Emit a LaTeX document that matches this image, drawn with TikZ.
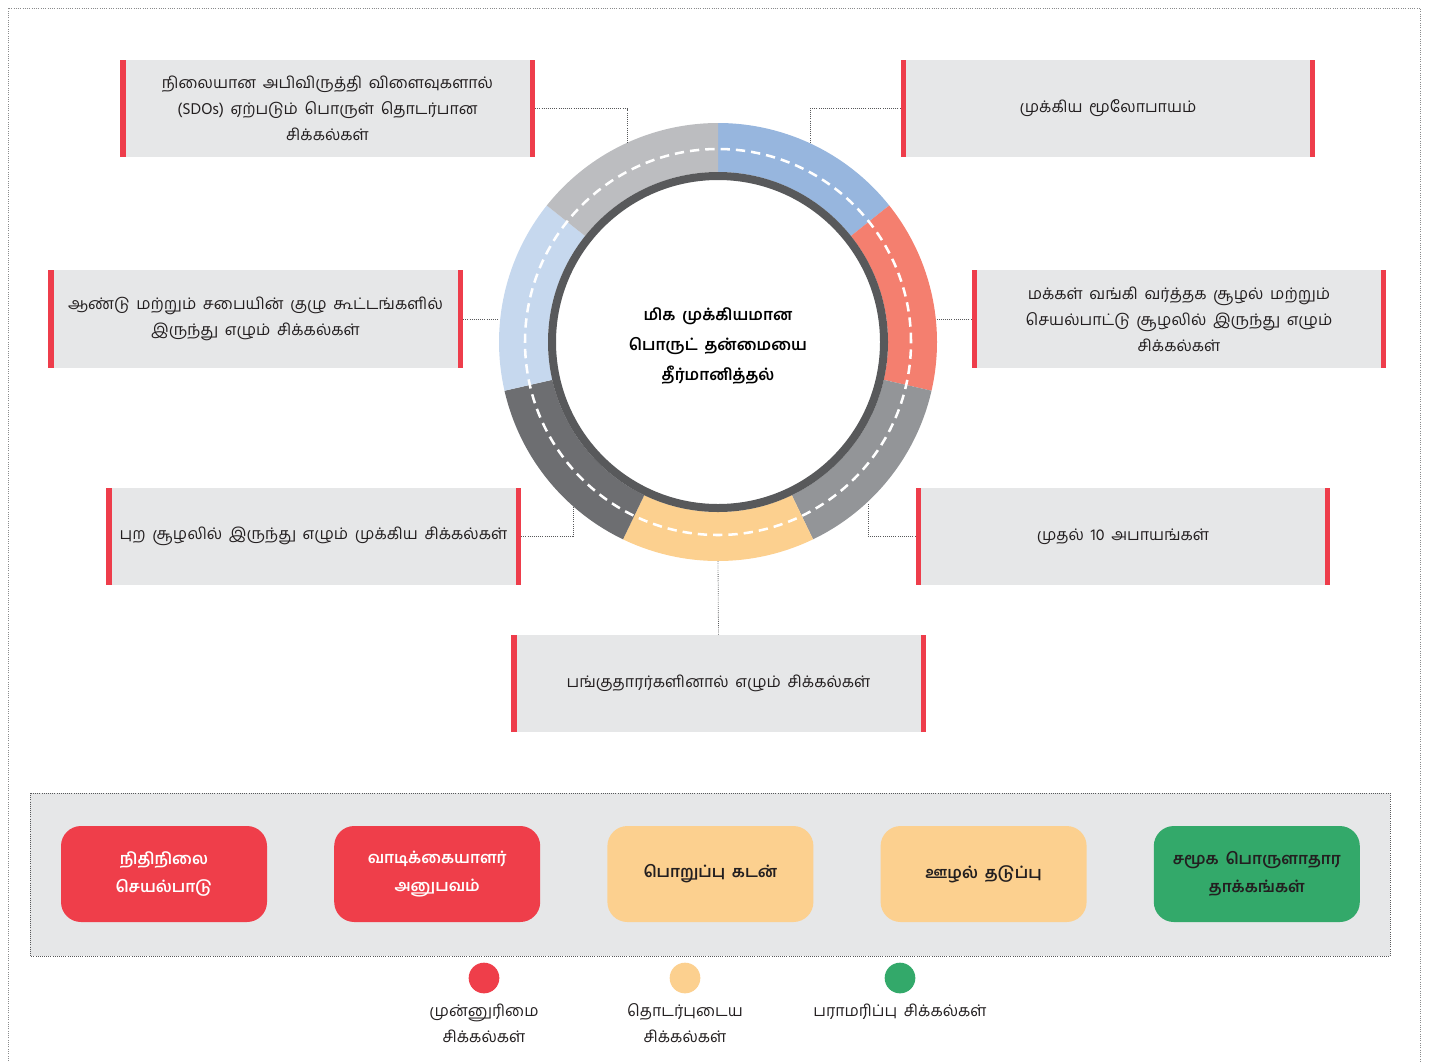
\documentclass[tikz,border=0pt]{standalone}
\usepackage{fontspec}
\setmainfont[Script=Tamil, WordSpace=1.7]{Hind Madurai}
\usetikzlibrary{positioning}

\definecolor{boxgray}{HTML}{E6E7E8}
\definecolor{barred}{HTML}{EE3D4B}
\definecolor{textgray}{HTML}{231F20}
\definecolor{linkgray}{HTML}{58595B}
\definecolor{ringdark}{HTML}{58595B}
\definecolor{ringblue}{HTML}{97B6DE}
\definecolor{ringsalmon}{HTML}{F47F6F}
\definecolor{ringgray}{HTML}{939598}
\definecolor{ringyellow}{HTML}{FCD08F}
\definecolor{ringslate}{HTML}{6D6E71}
\definecolor{ringpale}{HTML}{C6D8EE}
\definecolor{ringsilver}{HTML}{BCBDC0}
\definecolor{tilered}{HTML}{EF3E4A}
\definecolor{tileyellow}{HTML}{FCD08F}
\definecolor{tilegreen}{HTML}{33A96A}

\begin{document}
\begin{tikzpicture}[
    x=0.75pt, y=-0.75pt,
    font=\fontsize{12}{19.5}\selectfont,
    node distance = 50pt,
    link/.style={densely dotted, draw=linkgray, line width=0.6pt},
    ]

    \tikzstyle{issue}=[
    fill = boxgray,
    text = textgray,
    align = center,
    inner sep = 0pt,
    minimum width = 311pt,
    minimum height = 73pt,
    path picture={
      \fill[barred] (path picture bounding box.north west) rectangle ([xshift=4pt]path picture bounding box.south west);
      \fill[barred] ([xshift=-4pt]path picture bounding box.north east) rectangle (path picture bounding box.south east);
    },
    ]
    \tikzstyle{tile}=[
    rounded corners = 15pt,
    align = center,
    minimum width = 154.5pt,
    minimum height = 72pt,
    font = \fontsize{12}{21}\selectfont\bfseries,
    ]
    \tikzstyle{dot}=[circle, inner sep=0pt, minimum size=23pt]

    \useasboundingbox (0,0) rectangle (1433,1061);
    % outer frame
    \draw[densely dotted, draw=linkgray!70, line width=0.7pt] (8,1061) -- (8,8) -- (1420,8) -- (1420,1061);

    % ring
    \begin{scope}[shift={(718,342)}, y=0.75pt]
      \foreach \col [count=\i from 0] in {ringblue, ringsalmon, ringgray, ringyellow, ringslate, ringpale, ringsilver} {
        \pgfmathsetmacro\a{90-\i*360/7}
        \pgfmathsetmacro\b{\a-360/7}
        \fill[\col] (\a:219) arc[start angle=\a, end angle=\b, radius=219]
          -- (\b:170) arc[start angle=\b, end angle=\a, radius=170] -- cycle;
      }
      \draw[white, dashed, line width=1.9pt, dash pattern=on 7pt off 4.5pt] (0,0) circle[radius=193];
      \draw[ringdark, line width=6pt] (0,0) circle[radius=166];
    \end{scope}
    \node[align=center, font=\fontsize{12}{22.5}\selectfont\bfseries] (core) at (718,346)
      {மிக முக்கியமான\\பொருட் தன்மையை\\தீர்மானித்தல்};

    % issue boxes
    \node[issue] (sdo) at (327.5,108.5) {நிலையான அபிவிருத்தி விளைவுகளால்\\(SDOs) ஏற்படும் பொருள் தொடர்பான\\சிக்கல்கள்};
    \node[issue] (strat) at (1108,108.5) {முக்கிய மூலோபாயம்};
    \node[issue] (board) at (255.5,319) {ஆண்டு மற்றும் சபையின் குழு கூட்டங்களில்\\இருந்து எழும் சிக்கல்கள்};
    \node[issue] (bank) at (1179,319) {மக்கள் வங்கி வர்த்தக சூழல் மற்றும்\\செயல்பாட்டு சூழலில் இருந்து எழும்\\சிக்கல்கள்};
    \node[issue] (ext) at (313.5,536.5) {புற சூழலில் இருந்து எழும் முக்கிய சிக்கல்கள்};
    \node[issue] (risk) at (1123,536.5) {முதல் 10 அபாயங்கள்};
    \node[issue] (stake) at (718.5,683.5) {பங்குதாரர்களினால் எழும் சிக்கல்கள்};

    % ring contact points
    \coordinate (r1) at (627,143);
    \coordinate (r2) at (810,143);
    \coordinate (r3) at (499,319);
    \coordinate (r4) at (937,319);
    \coordinate (r5) at (573,507);
    \coordinate (r6) at (868,504);
    \coordinate (r7) at (718,561);

    \draw[link] (sdo.east) -| (r1);
    \draw[link] (strat.west) -| (r2);
    \draw[link] (board.east) -- (r3);
    \draw[link] (bank.west) -- (r4);
    \draw[link] (ext.east) -| (r5);
    \draw[link] (risk.west) -| (r6);
    \draw[link] (stake.north) -- (r7);

    % topic panel
    \draw[densely dotted, draw=linkgray, fill=boxgray, line width=0.6pt] (30,793) rectangle (1390,956);
    \node[tile, fill=tilered, text=white] (fin) at (164,874) {நிதிநிலை\\செயல்பாடு};
    \node[tile, fill=tilered, text=white] (cust) [right=of fin] {வாடிக்கையாளர்\\அனுபவம்};
    \node[tile, fill=tileyellow, text=textgray] (lend) [right=of cust] {பொறுப்பு கடன்};
    \node[tile, fill=tileyellow, text=textgray] (anti) [right=of lend] {ஊழல் தடுப்பு};
    \node[tile, fill=tilegreen, text=textgray] (soc) [right=of anti] {சமூக பொருளாதார\\தாக்கங்கள்};

    % legend
    \node[dot, fill=tilered] (kred) at (484,978) {};
    \node[dot, fill=tileyellow] (kyel) at (685,978) {};
    \node[dot, fill=tilegreen] (kgrn) at (900,978) {};
    \node[align=center, text=textgray, below=4pt of kred] (lred) {முன்னுரிமை\\சிக்கல்கள்};
    \node[align=center, text=textgray, below=4pt of kyel] (lyel) {தொடர்புடைய\\சிக்கல்கள்};
    \node[align=center, text=textgray, below=4pt of kgrn] (lgrn) {பராமரிப்பு சிக்கல்கள்};
  \end{tikzpicture}
\end{document}
